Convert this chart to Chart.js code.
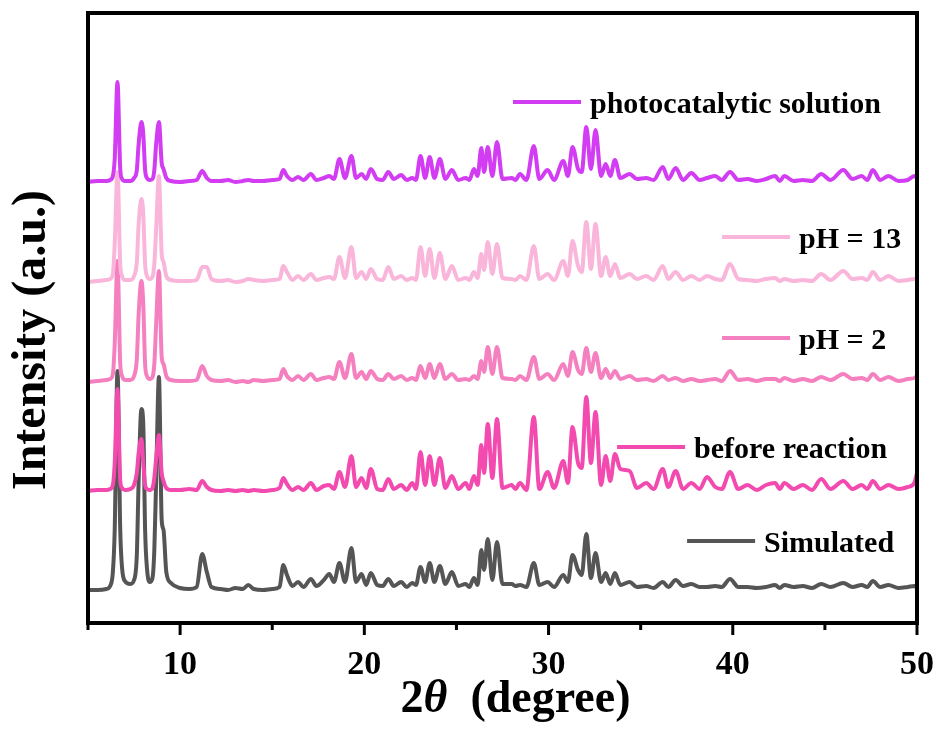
<!DOCTYPE html>
<html>
<head>
<meta charset="utf-8">
<title>XRD</title>
<script src="https://cdn.jsdelivr.net/npm/chart.js@4.4.0/dist/chart.umd.min.js"></script>
<style>
  html, body { margin: 0; padding: 0; background: #fff; }
  canvas { display: block; }
</style>
</head>
<body>
<canvas id="myChart" width="941" height="734"></canvas>
<script>
// 2theta sampling points shared by every pattern
const twoTheta = [
  5.0, 5.5, 6.0, 6.2, 6.35, 6.45, 6.6, 6.75, 6.85, 7.0,
  7.3, 7.5, 7.65, 7.75, 7.9, 8.0, 8.1, 8.2, 8.35, 8.5,
  8.6, 8.7, 8.85, 9.0, 9.1, 9.25, 9.5, 10.0, 10.5, 10.9,
  11.2, 11.45, 11.7, 12.2, 12.6, 13.0, 13.4, 13.7, 14.0, 14.5,
  15.0, 15.4, 15.6, 15.8, 16.1, 16.4, 16.7, 17.1, 17.4, 17.8,
  18.1, 18.35, 18.65, 18.95, 19.3, 19.55, 19.85, 20.1, 20.35, 20.7,
  21.0, 21.3, 21.6, 22.0, 22.3, 22.6, 22.8, 23.05, 23.3, 23.55,
  23.8, 24.1, 24.4, 24.75, 25.1, 25.5, 25.7, 25.95, 26.15, 26.35,
  26.5, 26.7, 26.95, 27.2, 27.5, 28.0, 28.2, 28.45, 28.8, 29.2,
  29.5, 29.95, 30.3, 30.8, 31.05, 31.3, 31.6, 31.8, 32.05, 32.3,
  32.55, 32.85, 33.1, 33.35, 33.6, 33.9, 34.4, 34.8, 35.3, 35.7,
  36.2, 36.5, 36.9, 37.3, 37.75, 38.2, 38.6, 39.05, 39.4, 39.85,
  40.3, 40.8, 41.3, 41.8, 42.3, 42.55, 42.8, 43.3, 43.8, 44.3,
  44.8, 45.3, 46.0, 46.5, 47.0, 47.3, 47.6, 48.0, 48.45, 49.0,
  49.5, 49.85, 50.0
];

// intensities (a.u.) of each pattern above its own baseline
const simulated = [
  0, 0, 1, 4, 18, 60, 219, 60, 22, 9,
  6, 10, 35, 110, 181, 166, 60, 22, 8, 12,
  40, 110, 213, 70, 60, 18, 7, 2, 1, 3,
  36, 18, 3, 1, 0, 2, 1, 5, 1, 0,
  1, 3, 25, 15, 4, 8, 3, 11, 4, 10,
  16, 8, 27, 8, 42, 8, 16, 5, 17, 5,
  4, 11, 4, 8, 3, 7, 5, 23, 8, 27,
  8, 24, 6, 18, 4, 6, 3, 12, 5, 40,
  20, 51, 10, 48, 6, 6, 4, 5, 3, 27,
  5, 8, 3, 15, 8, 35, 20, 15, 56, 12,
  37, 8, 17, 6, 17, 5, 8, 3, 4, 2,
  8, 3, 10, 4, 6, 3, 3, 4, 3, 11,
  3, 3, 2, 3, 5, 2, 5, 3, 4, 2,
  6, 3, 7, 3, 5, 3, 9, 3, 5, 2,
  3, 4, 2
];
const beforeReaction = [
  2, 3, 3, 4, 8, 30, 104, 12, 5, 3,
  4, 8, 20, 40, 54, 30, 8, 4, 3, 5,
  15, 35, 58, 20, 12, 5, 3, 3, 4, 3,
  12, 6, 3, 2, 3, 2, 3, 2, 3, 2,
  3, 5, 15, 9, 3, 6, 3, 10, 3, 7,
  8, 4, 21, 6, 37, 6, 15, 5, 24, 4,
  3, 14, 4, 8, 3, 10, 4, 41, 8, 37,
  8, 35, 5, 17, 4, 10, 4, 17, 8, 48,
  20, 69, 15, 74, 5, 8, 4, 10, 3, 76,
  4, 21, 5, 32, 10, 66, 30, 25, 96, 30,
  81, 8, 37, 12, 39, 24, 22, 5, 10, 4,
  24, 6, 22, 4, 10, 4, 16, 6, 4, 21,
  4, 8, 3, 8, 10, 4, 10, 4, 8, 3,
  14, 4, 12, 4, 8, 4, 12, 4, 8, 4,
  6, 10, 20
];
const pH2 = [
  2, 3, 4, 5, 10, 40, 123, 20, 8, 4,
  4, 8, 25, 70, 103, 80, 20, 8, 5, 7,
  20, 60, 113, 27, 20, 8, 4, 3, 3, 4,
  18, 8, 4, 3, 4, 2, 3, 2, 4, 3,
  4, 5, 15, 8, 4, 8, 4, 10, 4, 6,
  7, 5, 22, 6, 30, 6, 12, 5, 13, 5,
  4, 10, 5, 8, 4, 6, 4, 18, 6, 20,
  6, 20, 5, 10, 4, 5, 4, 8, 5, 23,
  12, 37, 10, 37, 6, 5, 4, 8, 4, 27,
  5, 10, 4, 20, 8, 32, 14, 10, 36, 12,
  31, 6, 15, 6, 13, 5, 8, 4, 5, 3,
  8, 4, 6, 3, 5, 3, 4, 5, 3, 13,
  4, 5, 3, 5, 5, 3, 6, 3, 5, 3,
  7, 4, 10, 5, 6, 4, 10, 4, 7, 3,
  5, 6, 8
];
const pH13 = [
  2, 3, 4, 5, 10, 40, 112, 20, 8, 4,
  4, 8, 22, 60, 85, 70, 20, 8, 5, 7,
  20, 55, 108, 30, 22, 8, 4, 3, 3, 4,
  17, 17, 5, 3, 4, 2, 3, 5, 4, 3,
  4, 5, 18, 12, 4, 8, 4, 10, 4, 6,
  7, 5, 27, 6, 37, 6, 12, 5, 15, 5,
  4, 17, 5, 8, 4, 6, 4, 37, 8, 35,
  6, 31, 5, 18, 4, 6, 4, 12, 6, 30,
  14, 42, 10, 40, 6, 5, 4, 8, 4, 38,
  5, 10, 4, 23, 8, 43, 18, 12, 62, 15,
  60, 8, 27, 8, 20, 6, 10, 5, 8, 4,
  18, 5, 12, 4, 8, 4, 8, 5, 4, 20,
  5, 4, 3, 5, 6, 3, 5, 3, 4, 3,
  10, 4, 13, 5, 6, 4, 12, 4, 8, 3,
  4, 5, 5
];
const photocatalytic = [
  2, 3, 3, 4, 8, 25, 102, 15, 5, 3,
  3, 6, 14, 40, 62, 50, 14, 6, 4, 5,
  14, 40, 62, 21, 15, 6, 3, 2, 3, 4,
  13, 6, 3, 3, 4, 2, 3, 4, 3, 3,
  4, 5, 14, 8, 4, 7, 4, 10, 4, 6,
  8, 5, 25, 6, 28, 6, 10, 5, 15, 5,
  4, 12, 5, 9, 4, 6, 4, 28, 6, 27,
  6, 25, 5, 14, 4, 6, 4, 15, 8, 36,
  12, 37, 8, 42, 5, 6, 4, 10, 4, 38,
  5, 14, 4, 23, 8, 37, 15, 12, 57, 15,
  54, 8, 20, 8, 24, 6, 10, 5, 6, 4,
  17, 5, 16, 4, 11, 4, 6, 8, 4, 12,
  4, 5, 3, 5, 8, 3, 8, 3, 4, 3,
  10, 4, 14, 5, 8, 4, 14, 4, 8, 3,
  4, 8, 6
];

const seriesNames = ['Simulated', 'before reaction', 'pH = 2', 'pH = 13', 'photocatalytic solution'];
const seriesValues = [simulated, beforeReaction, pH2, pH13, photocatalytic];
// vertical stacking offset of each pattern
const offsets = [33, 130, 239, 339, 439];
const xTickLabels = [10, 20, 30, 40, 50];

const colors = ['#555555', '#F24AAE', '#F580C0', '#F9B6DA', '#D23CF2'];
// where each legend line starts, in axis units (2theta, intensity)
const legendAt = [[37.52, 82], [33.72, 176], [39.42, 285], [39.42, 386], [28.07, 521]];

const serif = '"Liberation Serif", "Times New Roman", serif';

var datasets = seriesValues.map(function (vals, k) {
    return {
        label: seriesNames[k],
        data: twoTheta.map(function (x, i) { return { x: x, y: offsets[k] + vals[i] }; }),
        borderColor: colors[k],
        borderWidth: 4,
        borderJoinStyle: 'round',
        borderCapStyle: 'round',
        pointRadius: 0,
        cubicInterpolationMode: 'monotone',
        fill: false,
        // last pattern on top
        order: seriesValues.length - k
    };
});

// frame, ticks, axis titles and the inline legend
const decor = {
    id: 'decor',
    afterDraw: function (chart) {
        var ctx = chart.ctx, a = chart.chartArea;
        var xs = chart.scales.x, ys = chart.scales.y;
        ctx.save();

        // ticks under the axis
        ctx.strokeStyle = '#000';
        ctx.lineWidth = 3;
        for (var v = 5; v <= 50; v += 5) {
            var px = xs.getPixelForValue(v);
            var len = xTickLabels.indexOf(v) >= 0 ? 12 : 7;
            ctx.beginPath();
            ctx.moveTo(px, a.bottom);
            ctx.lineTo(px, a.bottom + len);
            ctx.stroke();
        }

        // box
        ctx.lineWidth = 4;
        ctx.strokeRect(a.left, a.top, a.right - a.left, a.bottom - a.top);

        // legend lines with labels
        ctx.lineWidth = 4;
        ctx.font = 'bold 30px ' + serif;
        ctx.textBaseline = 'alphabetic';
        ctx.textAlign = 'left';
        legendAt.forEach(function (p, k) {
            var x0 = xs.getPixelForValue(p[0]);
            var y0 = ys.getPixelForValue(p[1]);
            ctx.strokeStyle = colors[k];
            ctx.beginPath();
            ctx.moveTo(x0, y0);
            ctx.lineTo(x0 + 68, y0);
            ctx.stroke();
            ctx.fillStyle = '#000';
            ctx.fillText(seriesNames[k], x0 + 77, y0 + 11);
        });

        // x title: 2θ (degree)
        var parts = [
            ['2', 'bold 46px ' + serif],
            ['\u03B8', 'italic bold 46px ' + serif],
            ['  (degree)', 'bold 46px ' + serif]
        ];
        var total = 0;
        parts.forEach(function (p) { ctx.font = p[1]; total += ctx.measureText(p[0]).width; });
        var tx = (a.left + a.right) / 2 + 13 - total / 2;
        parts.forEach(function (p) {
            ctx.font = p[1];
            ctx.fillText(p[0], tx, 712);
            tx += ctx.measureText(p[0]).width;
        });

        // y title
        ctx.translate(33, 340);
        ctx.rotate(-Math.PI / 2);
        ctx.textAlign = 'center';
        ctx.textBaseline = 'middle';
        ctx.font = 'bold 48px ' + serif;
        ctx.fillText('Intensity (a.u.)', 0, 0);
        ctx.restore();
    }
};

var ctx = document.getElementById('myChart').getContext('2d');
var chart = new Chart(ctx, {
    type: 'line',
    data: { datasets: datasets },
    options: {
        responsive: false,
        devicePixelRatio: 1,
        animation: false,
        layout: { padding: { top: 13, right: 24, left: 0, bottom: 0 } },
        plugins: { legend: { display: false }, tooltip: { enabled: false } },
        scales: {
            x: {
                type: 'linear',
                min: 5,
                max: 50,
                grid: { display: false, drawTicks: false },
                border: { display: false },
                ticks: {
                    stepSize: 5,
                    padding: 22,
                    color: '#000',
                    maxRotation: 0,
                    autoSkip: false,
                    font: { family: serif, size: 34, weight: 'bold' },
                    callback: function (v) { return xTickLabels.indexOf(v) >= 0 ? String(v) : ''; }
                },
                afterFit: function (s) { s.height = 111; s.paddingLeft = 0; s.paddingRight = 0; }
            },
            y: {
                min: 0,
                max: 610,
                grid: { display: false, drawTicks: false },
                border: { display: false },
                ticks: { display: false },
                afterFit: function (s) { s.width = 88; }
            }
        }
    },
    plugins: [decor]
});
</script>
</body>
</html>
